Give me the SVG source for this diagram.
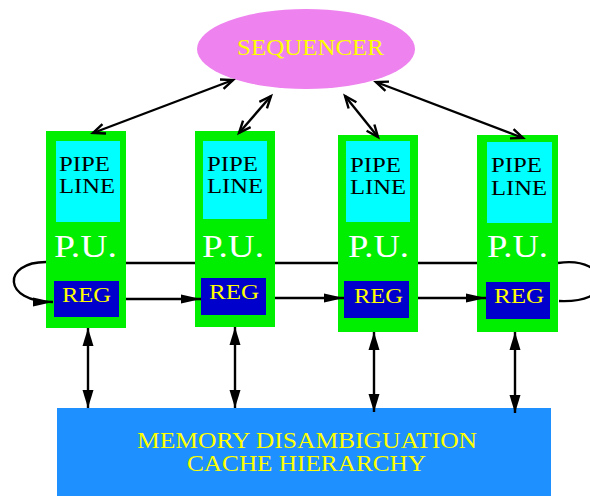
<svg xmlns="http://www.w3.org/2000/svg" width="590" height="496" viewBox="0 0 590 496">
<style>
.pu{fill:#00ee00}
.pipe{fill:#00ffff}
.reg{fill:#0000cc}
.t{font-family:"Liberation Serif","Times New Roman",serif}
.pl{font-size:22px;fill:#000}
.put{font-size:32px;fill:#fff}
.rt{font-size:22px;fill:#ffff00}
.ln{stroke:#000;stroke-width:2.4;fill:none}
</style>
<defs>
<marker id="fa" markerUnits="userSpaceOnUse" markerWidth="22" markerHeight="12" refX="20" refY="5" orient="auto-start-reverse">
<path d="M0,0.5 L20,5 L0,9.5 z" fill="#000"/>
</marker>
<marker id="ma" markerUnits="userSpaceOnUse" markerWidth="20" markerHeight="14" refX="18" refY="6" orient="auto-start-reverse">
<path d="M0,0.5 L18,6 L0,11.5 z" fill="#000"/>
</marker>
<marker id="oa" markerUnits="userSpaceOnUse" markerWidth="16" markerHeight="14" refX="13" refY="6" orient="auto-start-reverse">
<path d="M1,1 L13,6 L1,11" fill="none" stroke="#000" stroke-width="2.4"/>
</marker>
</defs>
<g id="sequencer">
<ellipse cx="306" cy="49" rx="109" ry="40" fill="#ee82ee"/>
<text class="t" x="237" y="55" font-size="23" fill="#ffff00" textLength="147" lengthAdjust="spacingAndGlyphs">SEQUENCER</text>
</g>
<g id="pu1">
<rect class="pu" x="46" y="131" width="80" height="197"/>
<rect class="pipe" x="56" y="141" width="64" height="81"/>
<text class="t pl" x="59" y="171" textLength="51" lengthAdjust="spacingAndGlyphs">PIPE</text>
<text class="t pl" x="59" y="193" textLength="56" lengthAdjust="spacingAndGlyphs">LINE</text>
<text class="t put" x="54" y="257" textLength="63" lengthAdjust="spacingAndGlyphs">P.U.</text>
<rect class="reg" x="54" y="281" width="65" height="36"/>
<text class="t rt" x="62" y="302" textLength="49" lengthAdjust="spacingAndGlyphs">REG</text>
</g>
<g id="pu2">
<rect class="pu" x="195" y="131" width="80" height="196"/>
<rect class="pipe" x="203" y="141" width="64" height="78"/>
<text class="t pl" x="207" y="171" textLength="51" lengthAdjust="spacingAndGlyphs">PIPE</text>
<text class="t pl" x="207" y="193" textLength="56" lengthAdjust="spacingAndGlyphs">LINE</text>
<text class="t put" x="202" y="257" textLength="62" lengthAdjust="spacingAndGlyphs">P.U.</text>
<rect class="reg" x="201" y="278" width="65" height="37"/>
<text class="t rt" x="209" y="299" textLength="50" lengthAdjust="spacingAndGlyphs">REG</text>
</g>
<g id="pu3">
<rect class="pu" x="338" y="135" width="80" height="197"/>
<rect class="pipe" x="346" y="141" width="64" height="81"/>
<text class="t pl" x="350" y="172" textLength="51" lengthAdjust="spacingAndGlyphs">PIPE</text>
<text class="t pl" x="350" y="194" textLength="56" lengthAdjust="spacingAndGlyphs">LINE</text>
<text class="t put" x="348" y="257" textLength="61" lengthAdjust="spacingAndGlyphs">P.U.</text>
<rect class="reg" x="344" y="281" width="65" height="37"/>
<text class="t rt" x="354" y="303" textLength="49" lengthAdjust="spacingAndGlyphs">REG</text>
</g>
<g id="pu4">
<rect class="pu" x="477" y="135" width="81" height="197"/>
<rect class="pipe" x="487" y="142" width="65" height="81"/>
<text class="t pl" x="491" y="172" textLength="51" lengthAdjust="spacingAndGlyphs">PIPE</text>
<text class="t pl" x="491" y="195" textLength="56" lengthAdjust="spacingAndGlyphs">LINE</text>
<text class="t put" x="487" y="257" textLength="61" lengthAdjust="spacingAndGlyphs">P.U.</text>
<rect class="reg" x="486" y="282" width="64" height="37"/>
<text class="t rt" x="494" y="303" textLength="50" lengthAdjust="spacingAndGlyphs">REG</text>
</g>
<g id="memory">
<rect x="57" y="408" width="494" height="88" fill="#1e90ff"/>
<text class="t" x="137" y="448" font-size="23" fill="#ffff00" textLength="340" lengthAdjust="spacingAndGlyphs">MEMORY DISAMBIGUATION</text>
<text class="t" x="187" y="471" font-size="23" fill="#ffff00" textLength="239" lengthAdjust="spacingAndGlyphs">CACHE HIERARCHY</text>
</g>
<g id="connectors">
<line class="ln" x1="233" y1="80" x2="93" y2="133" marker-start="url(#oa)" marker-end="url(#oa)"/>
<line class="ln" x1="271" y1="96" x2="239" y2="133" marker-start="url(#oa)" marker-end="url(#oa)"/>
<line class="ln" x1="345" y1="96" x2="378" y2="137" marker-start="url(#oa)" marker-end="url(#oa)"/>
<line class="ln" x1="376" y1="82" x2="523" y2="138" marker-start="url(#oa)" marker-end="url(#oa)"/>
<line class="ln" x1="126" y1="263" x2="195" y2="263"/>
<line class="ln" x1="275" y1="263" x2="338" y2="263"/>
<line class="ln" x1="418" y1="263" x2="477" y2="263"/>
<path class="ln" d="M558,263 C585,259 600,270 600,282 C600,295 585,302 559,301"/>
<path class="ln" d="M46,262 C2,262 2,302 53,302" marker-end="url(#fa)"/>
<line class="ln" x1="126" y1="299" x2="201" y2="299" marker-end="url(#fa)"/>
<line class="ln" x1="275" y1="298" x2="344" y2="298" marker-end="url(#fa)"/>
<line class="ln" x1="418" y1="298" x2="486" y2="298" marker-end="url(#fa)"/>
<line class="ln" x1="88" y1="328" x2="88" y2="408" marker-start="url(#ma)" marker-end="url(#ma)"/>
<line class="ln" x1="235" y1="327" x2="235" y2="408" marker-start="url(#ma)" marker-end="url(#ma)"/>
<line class="ln" x1="374" y1="332" x2="374" y2="412" marker-start="url(#ma)" marker-end="url(#ma)"/>
<line class="ln" x1="515" y1="332" x2="515" y2="413" marker-start="url(#ma)" marker-end="url(#ma)"/>
</g>
</svg>
